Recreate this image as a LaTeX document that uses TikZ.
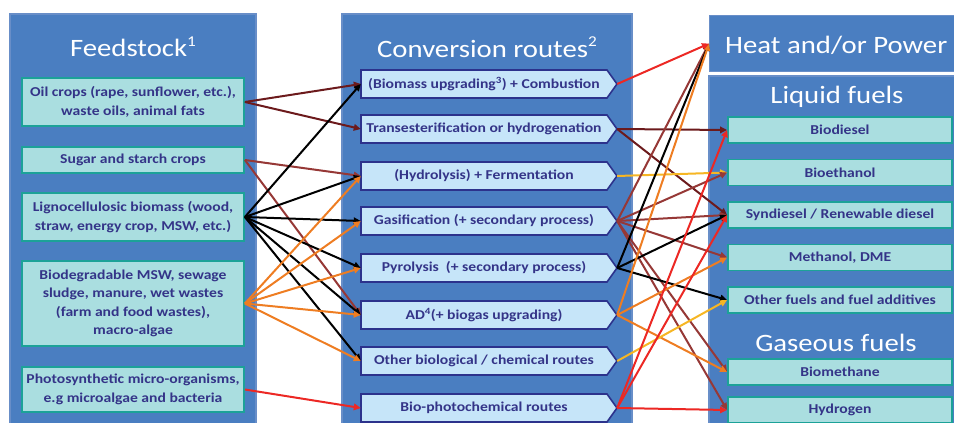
\documentclass[tikz,border=0pt]{standalone}
\usepackage{fontspec}
\setmainfont{Carlito}[FakeStretch=1.15]
\usetikzlibrary{arrows.meta,calc}
\definecolor{panelblue}{RGB}{74,126,193}
\definecolor{paneledge}{RGB}{104,142,200}
\definecolor{aqua}{RGB}{170,222,224}
\definecolor{tealedge}{RGB}{28,162,152}
\definecolor{lightblue}{RGB}{198,229,249}
\definecolor{navy}{RGB}{44,50,140}
\definecolor{txt}{RGB}{52,52,136}
\definecolor{cMaroon}{RGB}{108,26,28}
\definecolor{cBrown}{RGB}{150,56,54}
\definecolor{cOrange}{RGB}{238,125,34}
\definecolor{cGold}{RGB}{246,182,36}
\definecolor{cRed}{RGB}{236,40,36}
\newcommand{\tsup}[1]{\raisebox{0.42em}{\fontsize{15}{15}\selectfont #1}}
\tikzset{
  panel/.style={fill=panelblue, draw=paneledge, line width=1.2pt},
  boxfont/.style={font=\bfseries\fontsize{13.6}{18.4}\selectfont},
  fbox/.style={boxfont, fill=aqua, draw=tealedge, line width=1.8pt, text=txt, align=center, inner sep=0pt, minimum width=222pt},
  rbox/.style={fbox, minimum width=224pt, minimum height=26pt},
  mbox/.style={boxfont, text=txt, inner sep=0pt, minimum width=246pt, minimum height=28pt},
  mshape/.style={fill=lightblue, draw=navy, line width=1.6pt, line join=miter},
  title/.style={text=white, font=\fontsize{25}{30}\selectfont, inner sep=0pt},
  conn/.style={line width=2pt, -{Triangle[length=7pt,width=6.5pt]}},
}
\begin{document}
\begin{tikzpicture}[x=1pt,y=-1pt]
\useasboundingbox (0,0) rectangle (954,423);
\clip (0,0) rectangle (954,423);
% panels
\draw[panel] (10,14) rectangle (256,440);
\draw[panel] (342,14) rectangle (632,440);
\node[panel, anchor=north west, minimum width=260pt, minimum height=56pt, inner sep=0pt] (heat) at (709,15) {};
\draw[panel] (709,76) rectangle (970,440);
% titles
\node[title] (tfeed) at (133,47) {Feedstock\tsup{1}};
\node[title] (tconv) at (487,47) {Conversion routes\tsup{2}};
\node[title, anchor=west] (theat) at (725,45) {Heat and/or Power};
\node[title] (tliq) at (837,97) {Liquid fuels};
\node[title] (tgas) at (836,343) {Gaseous fuels};
% feedstock boxes
\node[fbox, minimum height=48pt] (oil) at (133,102) {Oil crops (rape, sunflower, etc.),\\waste oils, animal fats};
\node[fbox, minimum height=26pt] (sugar) at (133,160) {Sugar and starch crops};
\node[fbox, minimum height=48pt] (ligno) at (133,217) {Lignocellulosic biomass (wood,\\straw, energy crop, MSW, etc.)};
\node[fbox, minimum height=85pt] (biod) at (133,303.5) {Biodegradable MSW, sewage\\sludge, manure, wet wastes\\(farm and food wastes),\\macro-algae};
\node[fbox, minimum height=45pt] (photo) at (133,389.5) {Photosynthetic micro-organisms,\\e.g microalgae and bacteria};
% conversion route shapes
\foreach \yy in {84,129,176,221,268,315,361,408}
  \draw[mshape] (361,\yy-14) -- (607,\yy-14) -- (617,\yy) -- (607,\yy+14) -- (361,\yy+14) -- cycle;
\node[mbox] (m1) at (484,84) {(Biomass upgrading\textsuperscript{3}) + Combustion};
\node[mbox] (m2) at (484,129) {Transesterification or hydrogenation};
\node[mbox] (m3) at (484,176) {(Hydrolysis) + Fermentation};
\node[mbox] (m4) at (484,221) {Gasification (+ secondary process)};
\node[mbox] (m5) at (484,268) {Pyrolysis~~(+ secondary process)};
\node[mbox] (m6) at (484,315) {AD\textsuperscript{4}(+ biogas upgrading)};
\node[mbox] (m7) at (484,361) {Other biological / chemical routes};
\node[mbox] (m8) at (484,408) {Bio-photochemical routes};
\foreach \i in {1,...,8} \coordinate (t\i) at ($(m\i.east)+(10,0)$);
% product boxes
\node[rbox] (biodiesel) at (840,130) {Biodiesel};
\node[rbox] (bioeth) at (840,172.5) {Bioethanol};
\node[rbox] (syn) at (840,215) {Syndiesel / Renewable diesel};
\node[rbox] (meth) at (840,257.5) {Methanol, DME};
\node[rbox] (othf) at (840,300) {Other fuels and fuel additives};
\node[rbox] (biometh) at (840,372) {Biomethane};
\node[rbox] (hydro) at (840,410) {Hydrogen};
% feedstock -> routes
\draw[conn, cMaroon] (oil.east) -- (m1.west);
\draw[conn, cMaroon] (oil.east) -- (m2.west);
\draw[conn, cBrown] (sugar.east) -- (m3.west);
\draw[conn, cBrown] (sugar.east) -- (m6.west);
\foreach \t in {m1,m3,m4,m5,m6,m7} \draw[conn, black] (ligno.east) -- (\t.west);
\foreach \t in {m3,m4,m5,m6,m7} \draw[conn, cOrange] (biod.east) -- (\t.west);
\draw[conn, cRed] (photo.east) -- (m8.west);
% routes -> products
\draw[conn, cMaroon] (t2) -- (biodiesel.west);
\draw[conn, cMaroon] (t2) -- (syn.west);
\draw[conn, cGold] (t3) -- (bioeth.west);
\foreach \t in {bioeth,syn,meth,biometh,hydro} \draw[conn, cBrown] (t4) -- (\t.west);
\draw[conn, cBrown] (t4) -- (heat.west);
\draw[conn, black] (t5) -- (heat.west);
\draw[conn, black] (t5) -- (syn.west);
\draw[conn, black] (t5) -- (othf.west);
\draw[conn, cOrange] (t6) -- (heat.west);
\draw[conn, cOrange] (t6) -- (meth.west);
\draw[conn, cOrange] (t6) -- (biometh.west);
\draw[conn, cGold] (t7) -- (othf.west);
\draw[conn, cRed] (t8) -- (biodiesel.west);
\draw[conn, cRed] (t8) -- (syn.west);
\draw[conn, cRed] (t8) -- (hydro.west);
\draw[conn, cRed] (t1) -- (heat.west);
\end{tikzpicture}
\end{document}
